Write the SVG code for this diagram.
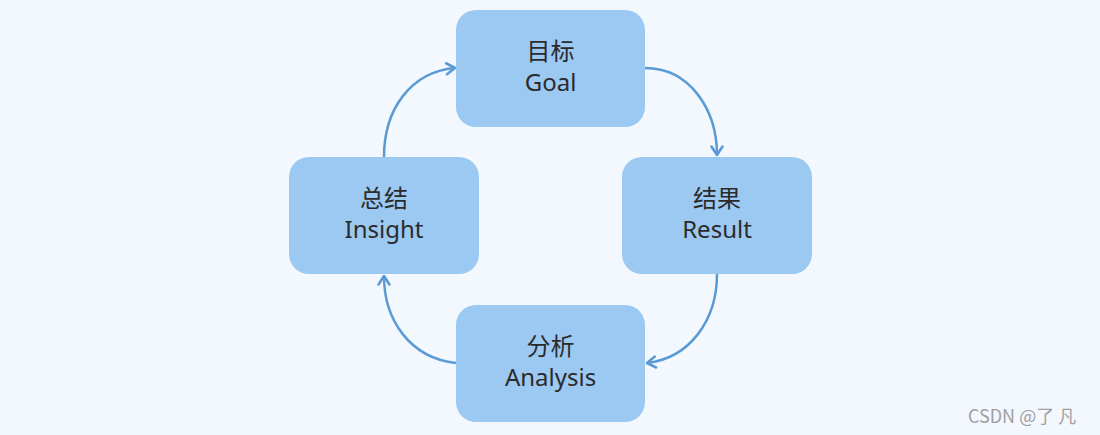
<svg xmlns="http://www.w3.org/2000/svg" width="1100" height="435" viewBox="0 0 1100 435">
<defs>
<style>
.box{fill:#9bc9f2;}
.t{font-family:"Noto Sans CJK SC","Noto Sans",sans-serif;font-size:24px;fill:#2b2b2b;text-anchor:middle;}
.e{font-family:"Noto Sans","Liberation Sans",sans-serif;font-size:24px;fill:#2b2b2b;text-anchor:middle;}
.c{fill:none;stroke:#5b9bd5;stroke-width:2.5;}
</style>
<marker id="ah" viewBox="0 0 12 14" refX="10.5" refY="7" markerWidth="12" markerHeight="14" markerUnits="userSpaceOnUse" orient="auto">
<path d="M2,1.5 L10.5,7 L2,12.5" fill="none" stroke="#5b9bd5" stroke-width="2.6" stroke-linecap="round" stroke-linejoin="round"/>
</marker>
</defs>
<rect width="1100" height="435" fill="#f3f8fe"/>
<g id="connectors">
<path class="c" d="M645,68 C690,68 717,110 717,155" marker-end="url(#ah)"/>
<path class="c" d="M717,274 C717,320 690,358 647,363" marker-end="url(#ah)"/>
<path class="c" d="M456,363 C410,358 384,320 384,276" marker-end="url(#ah)"/>
<path class="c" d="M384,157 C384,110 410,72 455,68" marker-end="url(#ah)"/>
</g>
<g id="goal">
<rect class="box" x="456" y="10" width="189" height="117" rx="20"/>
<text class="t" x="550.5" y="60">目标</text>
<text class="e" x="550.5" y="91">Goal</text>
</g>
<g id="result">
<rect class="box" x="622" y="157" width="190" height="117" rx="20"/>
<text class="t" x="717" y="207">结果</text>
<text class="e" x="717" y="238">Result</text>
</g>
<g id="analysis">
<rect class="box" x="456" y="305" width="189" height="117" rx="20"/>
<text class="t" x="550.5" y="355">分析</text>
<text class="e" x="550.5" y="386">Analysis</text>
</g>
<g id="insight">
<rect class="box" x="289" y="157" width="190" height="117" rx="20"/>
<text class="t" x="384" y="207">总结</text>
<text class="e" x="384" y="238">Insight</text>
</g>
<text x="968" y="423" font-family="Noto Sans CJK SC, Noto Sans, sans-serif" font-size="18" fill="#a0a0a0">CSDN @了 凡</text>
</svg>
